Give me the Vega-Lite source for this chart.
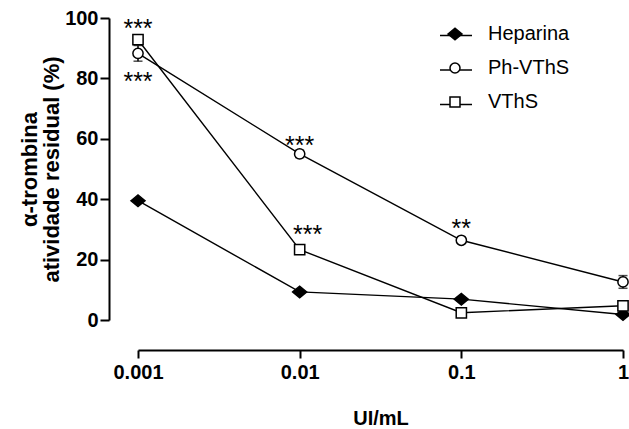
{
  "$schema": "https://vega.github.io/schema/vega-lite/v6.json",
  "width": 485,
  "height": 302,
  "autosize": {"type": "none"},
  "padding": {"left": 138, "top": 18, "right": 6, "bottom": 109},
  "background": "white",
  "config": {
    "view": {"stroke": null},
    "font": "Liberation Sans",
    "style": {"guide-title": {"lineBreak": "|", "lineHeight": 22}},
    "axis": {"grid": false, "domainColor": "black", "tickColor": "black", "labelColor": "black", "titleColor": "black", "labelFont": "Liberation Sans", "titleFont": "Liberation Sans"},
    "legend": {"labelFont": "Liberation Sans", "labelColor": "black"}
  },
  "datasets": {
    "main": [
      {"dose": 0.001, "series": "Heparina", "value": 39.5, "err": null},
      {"dose": 0.01, "series": "Heparina", "value": 9.3, "err": null},
      {"dose": 0.1, "series": "Heparina", "value": 6.9, "err": null},
      {"dose": 1, "series": "Heparina", "value": 1.8, "err": null},
      {"dose": 0.001, "series": "Ph-VThS", "value": 88.3, "err": 2.6},
      {"dose": 0.01, "series": "Ph-VThS", "value": 55.0, "err": 1.2},
      {"dose": 0.1, "series": "Ph-VThS", "value": 26.4, "err": null},
      {"dose": 1, "series": "Ph-VThS", "value": 12.6, "err": 2.1},
      {"dose": 0.001, "series": "VThS", "value": 92.8, "err": 1.0},
      {"dose": 0.01, "series": "VThS", "value": 23.3, "err": 1.3},
      {"dose": 0.1, "series": "VThS", "value": 2.4, "err": null},
      {"dose": 1, "series": "VThS", "value": 4.7, "err": 0.5}
    ],
    "stars": [
      {"dose": 0.001, "value": 93.8, "label": "***"},
      {"dose": 0.001, "value": 76.3, "label": "***"},
      {"dose": 0.01, "value": 55.1, "label": "***"},
      {"dose": 0.0112, "value": 25.5, "label": "***"},
      {"dose": 0.1, "value": 27.6, "label": "**"}
    ]
  },
  "layer": [
    {
      "data": {"name": "main"},
      "transform": [{"filter": "isValid(datum.value)"}],
      "mark": {"type": "line", "strokeWidth": 1.4, "clip": false},
      "encoding": {
        "x": {"field": "dose", "type": "quantitative", "title": "UI/mL", "scale": {"type": "log", "domain": [0.001, 1], "nice": false},
          "axis": {"values": [0.001, 0.01, 0.1, 1], "format": "~g", "offset": 30, "tickSize": 8, "tickWidth": 2, "domainWidth": 2, "labelPadding": 4, "labelFontSize": 20, "labelFontWeight": "bold", "titleFontSize": 20, "titleFontWeight": "bold", "titlePadding": 26, "labelFlush": false}},
        "y": {"field": "value", "type": "quantitative", "title": "α-trombina|atividade residual (%)", "scale": {"domain": [0, 100], "nice": false, "zero": false},
          "axis": {"values": [0, 20, 40, 60, 80, 100], "offset": 29, "tickSize": 9, "tickWidth": 2, "domainWidth": 2, "labelPadding": 2, "labelFontSize": 20, "labelFontWeight": "bold", "titleFontSize": 22, "titleFontWeight": "bold", "titlePadding": 1}},
        "color": {"field": "series", "type": "nominal", "scale": {"range": ["black", "black", "black"]},
          "legend": {"orient": "none", "legendX": 301, "legendY": 0.5, "title": null, "padding": 0, "symbolType": "stroke", "symbolSize": 1024, "symbolStrokeWidth": 1.5, "labelOpacity": 0, "labelFontSize": 20, "rowPadding": 7.5}}
      }
    },
    {
      "data": {"name": "main"},
      "transform": [{"filter": "isValid(datum.err)"}],
      "mark": {"type": "errorbar", "ticks": true, "size": 9, "thickness": 1.5, "color": "black"},
      "encoding": {
        "x": {"field": "dose", "type": "quantitative", "title": "UI/mL"},
        "y": {"field": "value", "type": "quantitative", "title": "α-trombina|atividade residual (%)"},
        "yError": {"field": "err"}
      }
    },
    {
      "data": {"name": "main"},
      "mark": {"type": "point", "filled": true, "strokeWidth": 1.5, "opacity": 1, "clip": false},
      "encoding": {
        "x": {"field": "dose", "type": "quantitative", "title": "UI/mL"},
        "y": {"field": "value", "type": "quantitative", "title": "α-trombina|atividade residual (%)"},
        "shape": {"field": "series", "type": "nominal", "scale": {"domain": ["Heparina", "Ph-VThS", "VThS"], "range": ["M-1.4,0L0,-1.15L1.4,0L0,1.15Z", "circle", "square"]},
          "legend": {"orient": "none", "legendX": 307, "legendY": 6, "title": null, "padding": 0, "symbolSize": 100, "symbolStrokeWidth": 1.5, "symbolOpacity": 1, "labelFontSize": 20, "labelOffset": 23, "rowPadding": 14}},
        "fill": {"field": "series", "type": "nominal", "scale": {"domain": ["Heparina", "Ph-VThS", "VThS"], "range": ["black", "white", "white"]},
          "legend": {"orient": "none", "legendX": 307, "legendY": 6, "title": null, "padding": 0, "symbolSize": 100, "symbolStrokeWidth": 1.5, "symbolOpacity": 1, "labelFontSize": 20, "labelOffset": 23, "rowPadding": 14}},
        "stroke": {"field": "series", "type": "nominal", "scale": {"domain": ["Heparina", "Ph-VThS", "VThS"], "range": ["black", "black", "black"]},
          "legend": {"orient": "none", "legendX": 307, "legendY": 6, "title": null, "padding": 0, "symbolSize": 100, "symbolStrokeWidth": 1.5, "symbolOpacity": 1, "labelFontSize": 20, "labelOffset": 23, "rowPadding": 14}},
        "size": {"condition": {"test": "datum.series === 'Heparina'", "value": 100}, "value": 105}
      }
    },
    {
      "data": {"name": "stars"},
      "mark": {"type": "text", "fontSize": 25, "font": "Liberation Sans", "baseline": "alphabetic", "align": "center", "color": "black"},
      "encoding": {
        "x": {"field": "dose", "type": "quantitative", "title": "UI/mL"},
        "y": {"field": "value", "type": "quantitative", "title": "α-trombina|atividade residual (%)"},
        "text": {"field": "label"}
      }
    }
  ]
}
